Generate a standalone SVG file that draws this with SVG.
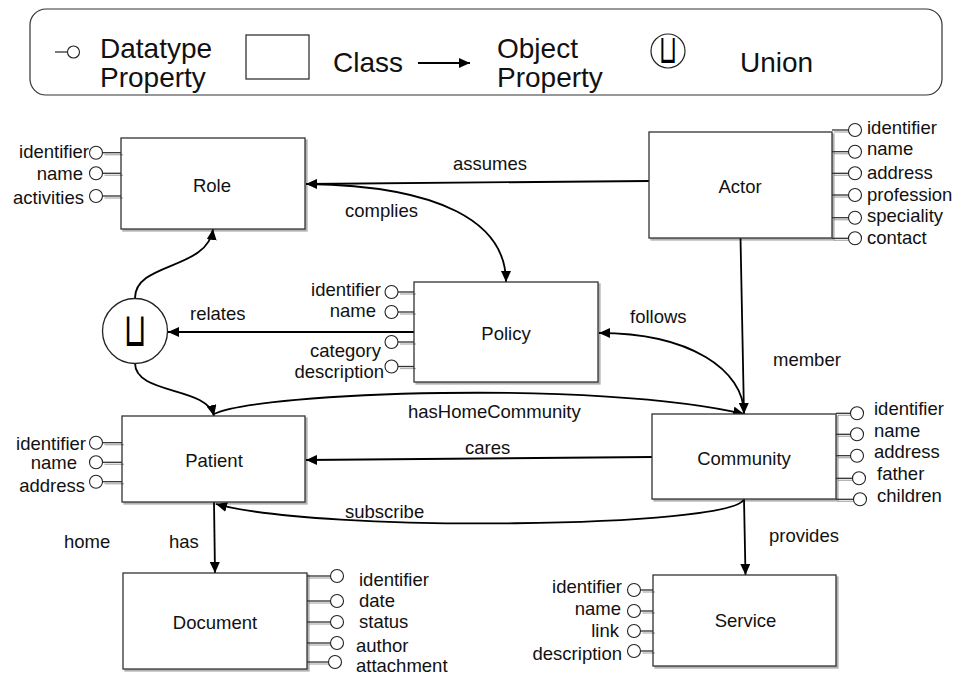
<svg xmlns="http://www.w3.org/2000/svg" width="957" height="675" viewBox="0 0 957 675">
  <style>
    text { font-family: "Liberation Sans", Arial, sans-serif; fill: #111; }
    .lbl { font-size: 18.5px; }
    .cls { font-size: 18.5px; text-anchor: middle; }
    .end { text-anchor: end; }
    .leg { font-size: 28px; }
    .box { fill: #fff; stroke: #333; stroke-width: 1.3; }
    .pin { stroke: #333; stroke-width: 1.3; fill: none; }
    .dot { fill: #fff; stroke: #222; stroke-width: 1.1; }
    .edge { fill: none; stroke: #000; stroke-width: 1.8; }
    .cup { font-family: "DejaVu Sans", sans-serif; text-anchor: middle; fill: #000; }
  </style>
  <defs>
    <marker id="arr" viewBox="0 0 11 10" refX="11" refY="5" markerWidth="11" markerHeight="10" markerUnits="userSpaceOnUse" orient="auto">
      <path d="M0,0 L11,5 L0,10 z" fill="#000"/>
    </marker>
    <filter id="sh" filterUnits="userSpaceOnUse" x="0" y="0" width="957" height="675">
      <feDropShadow dx="2" dy="2" stdDeviation="0.6" flood-color="#000" flood-opacity="0.3"/>
    </filter>
  </defs>

  <!-- legend -->
  <g id="legend">
    <rect x="30" y="9" width="912" height="86" rx="16" fill="#fff" stroke="#333" stroke-width="1.2"/>
    <line x1="55" y1="52" x2="67.5" y2="52" class="pin"/>
    <circle cx="73.5" cy="52" r="6" class="dot"/>
    <text class="leg" x="100" y="58">Datatype</text>
    <text class="leg" x="100" y="87">Property</text>
    <rect x="246" y="35" width="63" height="44" class="box"/>
    <text class="leg" x="333" y="72">Class</text>
    <line x1="418" y1="63" x2="470" y2="63" class="edge" marker-end="url(#arr)"/>
    <text class="leg" x="497" y="58">Object</text>
    <text class="leg" x="497" y="87">Property</text>
    <circle cx="668" cy="51" r="17" fill="#fff" stroke="#222" stroke-width="1.2"/>
    <text class="cup" font-size="40" transform="translate(668,63) scale(0.58,1)">⊔</text>
    <text class="leg" x="740" y="72">Union</text>
  </g>

  <!-- connectors -->
  <g id="connectors">
    <path id="assumes" class="edge" d="M649,181 L306,184" marker-end="url(#arr)"/>
    <path id="complies" class="edge" d="M308,184 C440,186 506,222 506,282" marker-end="url(#arr)"/>
    <path id="relates" class="edge" d="M414,332 L168,332" marker-end="url(#arr)"/>
    <path id="unionRole" class="edge" d="M135,298 C135,262 208,270 213,229" marker-end="url(#arr)"/>
    <path id="unionPatient" class="edge" d="M135,363 C135,395 207,386 214,416" marker-end="url(#arr)"/>
    <path id="hasHomeCommunity" class="edge" d="M214,414 C260,392 600,380 744,414" marker-end="url(#arr)"/>
    <path id="member" class="edge" d="M740.5,238 L744,414" marker-end="url(#arr)"/>
    <path id="follows" class="edge" d="M744,414 C744,370 690,333 599,333" marker-end="url(#arr)"/>
    <path id="cares" class="edge" d="M652,457 L306,460" marker-end="url(#arr)"/>
    <path id="subscribe" class="edge" d="M744,499 C735,528 320,533 216,504" marker-end="url(#arr)"/>
    <path id="has" class="edge" d="M214,502 L215,573" marker-end="url(#arr)"/>
    <path id="provides" class="edge" d="M744,499 L745.5,575" marker-end="url(#arr)"/>
    <text class="lbl" x="453" y="170">assumes</text>
    <text class="lbl" x="345" y="217">complies</text>
    <text class="lbl" x="190" y="320">relates</text>
    <text class="lbl" x="630" y="323">follows</text>
    <text class="lbl" x="773" y="366">member</text>
    <text class="lbl" x="408" y="418">hasHomeCommunity</text>
    <text class="lbl" x="465" y="454">cares</text>
    <text class="lbl" x="345" y="518">subscribe</text>
    <text class="lbl" x="64" y="548">home</text>
    <text class="lbl" x="169" y="548">has</text>
    <text class="lbl" x="769" y="542">provides</text>
  </g>

  <!-- union node -->
  <g id="union">
    <circle cx="135" cy="331" r="32.5" fill="#fff" stroke="#222" stroke-width="1.3"/>
    <text class="cup" font-size="47" transform="translate(135,346) scale(0.62,1)">⊔</text>
  </g>

  <!-- Role -->
  <g id="role">
    <rect x="121" y="138" width="184" height="91" class="box" filter="url(#sh)"/>
    <text class="cls" x="212" y="192">Role</text>
    <g filter="url(#sh)">
      <line x1="102.5" y1="152.7" x2="121" y2="152.7" class="pin"/>
      <line x1="102.5" y1="173.3" x2="121" y2="173.3" class="pin"/>
      <line x1="102.5" y1="196" x2="121" y2="196" class="pin"/>
    </g>
    <circle cx="96" cy="152.7" r="6.5" class="dot"/>
    <circle cx="96" cy="173.3" r="6.5" class="dot"/>
    <circle cx="96" cy="196" r="6.5" class="dot"/>
    <text class="lbl end" x="89" y="158">identifier</text>
    <text class="lbl end" x="83" y="180">name</text>
    <text class="lbl end" x="84" y="204">activities</text>
  </g>

  <!-- Actor -->
  <g id="actor">
    <rect x="649" y="132" width="183" height="106" class="box" filter="url(#sh)"/>
    <text class="cls" x="740" y="193">Actor</text>
    <g filter="url(#sh)">
      <line x1="832" y1="130" x2="848.5" y2="130" class="pin"/>
      <line x1="832" y1="151.7" x2="848.5" y2="151.7" class="pin"/>
      <line x1="832" y1="173.3" x2="848.5" y2="173.3" class="pin"/>
      <line x1="832" y1="195" x2="848.5" y2="195" class="pin"/>
      <line x1="832" y1="217.7" x2="848.5" y2="217.7" class="pin"/>
      <line x1="832" y1="238.3" x2="848.5" y2="238.3" class="pin"/>
    </g>
    <circle cx="855" cy="130" r="6.5" class="dot"/>
    <circle cx="855" cy="151.7" r="6.5" class="dot"/>
    <circle cx="855" cy="173.3" r="6.5" class="dot"/>
    <circle cx="855" cy="195" r="6.5" class="dot"/>
    <circle cx="855" cy="217.7" r="6.5" class="dot"/>
    <circle cx="855" cy="238.3" r="6.5" class="dot"/>
    <text class="lbl" x="867" y="134">identifier</text>
    <text class="lbl" x="867" y="155">name</text>
    <text class="lbl" x="867" y="179">address</text>
    <text class="lbl" x="867" y="201">profession</text>
    <text class="lbl" x="867" y="222">speciality</text>
    <text class="lbl" x="867" y="244">contact</text>
  </g>

  <!-- Policy -->
  <g id="policy">
    <rect x="414" y="282" width="184" height="100" class="box" filter="url(#sh)"/>
    <text class="cls" x="506" y="340">Policy</text>
    <g filter="url(#sh)">
      <line x1="398" y1="292" x2="414" y2="292" class="pin"/>
      <line x1="398" y1="312" x2="414" y2="312" class="pin"/>
      <line x1="398" y1="342" x2="414" y2="342" class="pin"/>
      <line x1="398" y1="366.5" x2="414" y2="366.5" class="pin"/>
    </g>
    <circle cx="391.5" cy="292" r="6.5" class="dot"/>
    <circle cx="391.5" cy="312" r="6.5" class="dot"/>
    <circle cx="391.5" cy="342" r="6.5" class="dot"/>
    <circle cx="391.5" cy="366.5" r="6.5" class="dot"/>
    <text class="lbl end" x="381" y="296">identifier</text>
    <text class="lbl end" x="376" y="317">name</text>
    <text class="lbl end" x="381" y="357">category</text>
    <text class="lbl end" x="384" y="378">description</text>
  </g>

  <!-- Patient -->
  <g id="patient">
    <rect x="122" y="416" width="183" height="86" class="box" filter="url(#sh)"/>
    <text class="cls" x="214" y="467">Patient</text>
    <g filter="url(#sh)">
      <line x1="102.5" y1="442.7" x2="122" y2="442.7" class="pin"/>
      <line x1="102.5" y1="462.3" x2="122" y2="462.3" class="pin"/>
      <line x1="102.5" y1="481.7" x2="122" y2="481.7" class="pin"/>
    </g>
    <circle cx="96" cy="442.7" r="6.5" class="dot"/>
    <circle cx="96" cy="462.3" r="6.5" class="dot"/>
    <circle cx="96" cy="481.7" r="6.5" class="dot"/>
    <text class="lbl end" x="86" y="450">identifier</text>
    <text class="lbl end" x="77" y="469">name</text>
    <text class="lbl end" x="85" y="492">address</text>
  </g>

  <!-- Community -->
  <g id="community">
    <rect x="652" y="414" width="184" height="85" class="box" filter="url(#sh)"/>
    <text class="cls" x="744" y="465">Community</text>
    <g filter="url(#sh)">
      <line x1="836" y1="413.3" x2="850.5" y2="413.3" class="pin"/>
      <line x1="836" y1="434.3" x2="850.5" y2="434.3" class="pin"/>
      <line x1="836" y1="455.7" x2="850.5" y2="455.7" class="pin"/>
      <line x1="836" y1="478.3" x2="852.5" y2="478.3" class="pin"/>
      <line x1="836" y1="499.3" x2="853.5" y2="499.3" class="pin"/>
    </g>
    <circle cx="857" cy="413.3" r="6.5" class="dot"/>
    <circle cx="857" cy="434.3" r="6.5" class="dot"/>
    <circle cx="857" cy="455.7" r="6.5" class="dot"/>
    <circle cx="859" cy="478.3" r="6.5" class="dot"/>
    <circle cx="860" cy="499.3" r="6.5" class="dot"/>
    <text class="lbl" x="874" y="415">identifier</text>
    <text class="lbl" x="874" y="437">name</text>
    <text class="lbl" x="874" y="458">address</text>
    <text class="lbl" x="877" y="480">father</text>
    <text class="lbl" x="877" y="502">children</text>
  </g>

  <!-- Document -->
  <g id="document">
    <rect x="123" y="573" width="184" height="96" class="box" filter="url(#sh)"/>
    <text class="cls" x="215" y="629">Document</text>
    <g filter="url(#sh)">
      <line x1="307" y1="576" x2="330.5" y2="576" class="pin"/>
      <line x1="307" y1="601" x2="330.5" y2="601" class="pin"/>
      <line x1="307" y1="622" x2="330.5" y2="622" class="pin"/>
      <line x1="307" y1="643" x2="330.5" y2="643" class="pin"/>
      <line x1="307" y1="662" x2="328.5" y2="662" class="pin"/>
    </g>
    <circle cx="337" cy="576" r="6.5" class="dot"/>
    <circle cx="337" cy="601" r="6.5" class="dot"/>
    <circle cx="337" cy="622" r="6.5" class="dot"/>
    <circle cx="337" cy="643" r="6.5" class="dot"/>
    <circle cx="335" cy="662" r="6.5" class="dot"/>
    <text class="lbl" x="359" y="586">identifier</text>
    <text class="lbl" x="359" y="607">date</text>
    <text class="lbl" x="359" y="628">status</text>
    <text class="lbl" x="356" y="652">author</text>
    <text class="lbl" x="356" y="672">attachment</text>
  </g>

  <!-- Service -->
  <g id="service">
    <rect x="653" y="575" width="183" height="91" class="box" filter="url(#sh)"/>
    <text class="cls" x="745.5" y="627">Service</text>
    <g filter="url(#sh)">
      <line x1="640.5" y1="590" x2="653" y2="590" class="pin"/>
      <line x1="640.5" y1="611" x2="653" y2="611" class="pin"/>
      <line x1="640.5" y1="631" x2="653" y2="631" class="pin"/>
      <line x1="640.5" y1="651" x2="653" y2="651" class="pin"/>
    </g>
    <circle cx="634" cy="590" r="6.5" class="dot"/>
    <circle cx="634" cy="611" r="6.5" class="dot"/>
    <circle cx="634" cy="631" r="6.5" class="dot"/>
    <circle cx="634" cy="651" r="6.5" class="dot"/>
    <text class="lbl end" x="622" y="593">identifier</text>
    <text class="lbl end" x="621" y="615">name</text>
    <text class="lbl end" x="619" y="637">link</text>
    <text class="lbl end" x="622" y="660">description</text>
  </g>
</svg>
